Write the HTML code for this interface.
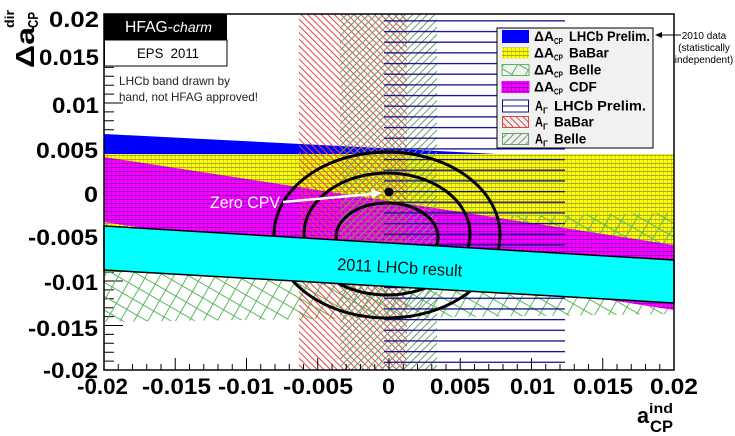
<!DOCTYPE html>
<html>
<head>
<meta charset="utf-8">
<style>
html,body{margin:0;padding:0;background:#fff;}
svg{display:block;}
text{font-family:"Liberation Sans",sans-serif;}
</style>
</head>
<body>
<svg width="735" height="436" viewBox="0 0 735 436" xmlns="http://www.w3.org/2000/svg">
<defs>
  <pattern id="yel" width="4" height="4" patternUnits="userSpaceOnUse">
    <rect width="4" height="4" fill="#ffff00"/>
    <rect y="3" width="4" height="1" fill="#2a2a80" opacity=".4"/>
    <rect x="3" width="1" height="3" fill="#2a2a80" opacity=".2"/>
  </pattern>
  <pattern id="mag" width="4" height="4" patternUnits="userSpaceOnUse">
    <rect width="4" height="4" fill="#ff00ff"/>
    <rect y="3" width="4" height="1" fill="#3010a0" opacity=".5"/>
    <rect x="3" width="1" height="3" fill="#3010a0" opacity=".25"/>
  </pattern>
  <pattern id="red" width="4.7" height="6" patternUnits="userSpaceOnUse" patternTransform="rotate(-45)">
    <rect width="1" height="6" fill="#e24444"/>
  </pattern>
  <pattern id="gsl" width="5.2" height="6" patternUnits="userSpaceOnUse" patternTransform="rotate(45)">
    <rect width="1" height="6" fill="#6a9f6a"/>
  </pattern>
  <pattern id="gcross" width="12" height="12" patternUnits="userSpaceOnUse" patternTransform="rotate(30)">
    <rect width="12" height="1" fill="#5cb85c"/>
    <rect width="1" height="12" fill="#5cb85c"/>
  </pattern>
  <pattern id="agl" width="10" height="10.67" y="20.2" patternUnits="userSpaceOnUse">
    <rect width="10" height="1.3" fill="#10108a"/>
  </pattern>
</defs>

<!-- left ticks (under the bands) -->
<path stroke="#000" stroke-width="1" fill="none" d="
M104 14h19 M104 22.9h10 M104 31.8h10 M104 40.7h10 M104 49.6h10
M104 58.5h19 M104 67.4h10 M104 76.3h10 M104 85.2h10 M104 94.1h10
M104 103h19 M104 111.9h10 M104 120.8h10 M104 129.7h10 M104 138.6h10
M104 147.5h19 M104 156.4h10 M104 165.3h10 M104 174.2h10 M104 183.1h10
M104 192h19 M104 200.9h10 M104 209.8h10 M104 218.7h10 M104 227.6h10
M104 236.5h19 M104 245.4h10 M104 254.3h10 M104 263.2h10 M104 272.1h10
M104 281h19 M104 289.9h10 M104 298.8h10 M104 307.7h10 M104 316.6h10
M104 325.5h19 M104 334.4h10 M104 343.3h10 M104 352.2h10 M104 361.1h10"/>

<!-- bands -->
<polygon points="104,134 674,163 674,210 104,180" fill="#0000ff"/>
<rect x="104" y="154" width="570" height="118" fill="url(#yel)"/>
<polygon points="104,222 674,213 674,314 104,322" fill="url(#gcross)"/>
<polygon points="104,157 674,245 674,310 104,222" fill="url(#mag)"/>
<rect x="299" y="14" width="108" height="356" fill="url(#red)"/>
<rect x="340" y="14" width="97" height="356" fill="url(#gsl)"/>
<rect x="384" y="20" width="181" height="343" fill="url(#agl)"/>

<!-- contours -->
<g fill="none" stroke="#000" stroke-width="3">
  <ellipse cx="387" cy="235" rx="113" ry="83"/>
  <ellipse cx="387" cy="234" rx="83" ry="61"/>
  <ellipse cx="387" cy="237" rx="51" ry="34"/>
</g>

<!-- cyan LHCb 2011 band -->
<polygon points="104,226 674,260 674,303 104,270" fill="#00ffff" stroke="#000" stroke-width="1.5"/>
<text x="337" y="270" font-size="17" fill="#111" textLength="125" lengthAdjust="spacingAndGlyphs" transform="rotate(3 337 270)">2011 LHCb result</text>

<!-- zero CPV -->
<circle cx="389" cy="192" r="4.5" fill="#000"/>
<line x1="283" y1="202" x2="372" y2="194" stroke="#fff" stroke-width="2.5"/>
<polygon points="382,193 371,189 372,198" fill="#fff"/>
<text x="210" y="208" font-size="17" fill="#fff" textLength="70" lengthAdjust="spacingAndGlyphs">Zero CPV</text>

<!-- bottom ticks -->
<path stroke="#000" stroke-width="1" fill="none" d="
M104 370v-12 M118.25 370v-6 M132.5 370v-6 M146.75 370v-6 M161 370v-6
M175.25 370v-12 M189.5 370v-6 M203.75 370v-6 M218 370v-6 M232.25 370v-6
M246.5 370v-12 M260.75 370v-6 M275 370v-6 M289.25 370v-6 M303.5 370v-6
M317.75 370v-12 M332 370v-6 M346.25 370v-6 M360.5 370v-6 M374.75 370v-6
M389 370v-12 M403.25 370v-6 M417.5 370v-6 M431.75 370v-6 M446 370v-6
M460.25 370v-12 M474.5 370v-6 M488.75 370v-6 M503 370v-6 M517.25 370v-6
M531.5 370v-12 M545.75 370v-6 M560 370v-6 M574.25 370v-6 M588.5 370v-6
M602.75 370v-12 M617 370v-6 M631.25 370v-6 M645.5 370v-6 M659.75 370v-6"/>

<!-- frame -->
<rect x="104" y="14" width="570" height="356" fill="none" stroke="#000" stroke-width="1.5"/>

<!-- y labels -->
<g font-size="22" font-weight="bold" fill="#000" text-anchor="end">
  <text x="99" y="27" textLength="50" lengthAdjust="spacingAndGlyphs">0.02</text>
  <text x="99" y="65" textLength="60" lengthAdjust="spacingAndGlyphs">0.015</text>
  <text x="99" y="113" textLength="47" lengthAdjust="spacingAndGlyphs">0.01</text>
  <text x="98" y="158" textLength="62" lengthAdjust="spacingAndGlyphs">0.005</text>
  <text x="98" y="202" textLength="14" lengthAdjust="spacingAndGlyphs">0</text>
  <text x="98" y="245" textLength="70" lengthAdjust="spacingAndGlyphs">-0.005</text>
  <text x="98" y="290" textLength="54" lengthAdjust="spacingAndGlyphs">-0.01</text>
  <text x="98" y="336" textLength="70" lengthAdjust="spacingAndGlyphs">-0.015</text>
  <text x="98" y="378" textLength="55" lengthAdjust="spacingAndGlyphs">-0.02</text>
</g>
<!-- x labels -->
<g font-size="22" font-weight="bold" fill="#000" text-anchor="middle">
  <text x="102.5" y="394" textLength="51" lengthAdjust="spacingAndGlyphs">-0.02</text>
  <text x="176.5" y="394" textLength="69" lengthAdjust="spacingAndGlyphs">-0.015</text>
  <text x="246" y="394" textLength="56" lengthAdjust="spacingAndGlyphs">-0.01</text>
  <text x="318" y="394" textLength="70" lengthAdjust="spacingAndGlyphs">-0.005</text>
  <text x="388.5" y="394" textLength="13" lengthAdjust="spacingAndGlyphs">0</text>
  <text x="460" y="394" textLength="60" lengthAdjust="spacingAndGlyphs">0.005</text>
  <text x="532.5" y="394" textLength="45" lengthAdjust="spacingAndGlyphs">0.01</text>
  <text x="603" y="394" textLength="60" lengthAdjust="spacingAndGlyphs">0.015</text>
  <text x="674" y="394" textLength="48" lengthAdjust="spacingAndGlyphs">0.02</text>
</g>

<!-- axis titles -->
<g font-weight="bold" fill="#000">
  <text x="637" y="423" font-size="22" textLength="12" lengthAdjust="spacingAndGlyphs">a</text>
  <text x="649" y="413" font-size="14" textLength="24" lengthAdjust="spacingAndGlyphs">ind</text>
  <text x="650" y="432" font-size="17" textLength="23" lengthAdjust="spacingAndGlyphs">CP</text>
  <text transform="translate(34,68) rotate(-90)" font-size="26" textLength="41" lengthAdjust="spacingAndGlyphs">Δa</text>
  <text transform="translate(14,28) rotate(-90)" font-size="13" textLength="18" lengthAdjust="spacingAndGlyphs">dir</text>
  <text transform="translate(38,28) rotate(-90)" font-size="15" textLength="16" lengthAdjust="spacingAndGlyphs">CP</text>
</g>

<!-- HFAG box -->
<rect x="104" y="14" width="123" height="26" fill="#000"/>
<text x="125" y="32" font-size="16" fill="#fff" textLength="48" lengthAdjust="spacingAndGlyphs">HFAG-</text>
<text x="173" y="32" font-size="14" font-style="italic" fill="#fff" textLength="39" lengthAdjust="spacingAndGlyphs">charm</text>
<rect x="104.5" y="40" width="122.5" height="26" fill="#fff" stroke="#000" stroke-width="1"/>
<text x="137" y="58" font-size="13.5" fill="#000" textLength="62" lengthAdjust="spacingAndGlyphs" xml:space="preserve">EPS  2011</text>

<!-- note -->
<text x="119" y="85" font-size="12" fill="#222" textLength="111" lengthAdjust="spacingAndGlyphs">LHCb band drawn by</text>
<text x="119" y="101" font-size="12" fill="#222" textLength="139" lengthAdjust="spacingAndGlyphs">hand, not HFAG approved!</text>

<!-- legend -->
<rect x="497" y="28" width="156" height="120" fill="#f1f1f1" stroke="#000" stroke-width="1"/>
<rect x="502" y="30" width="27" height="13" fill="#0000ff"/>
<rect x="502" y="47.5" width="27" height="11" fill="url(#yel)"/>
<rect x="502" y="64.5" width="27" height="11" fill="url(#gcross)" stroke="#5cb85c" stroke-width="1"/>
<rect x="502" y="81.5" width="27" height="11" fill="url(#mag)" stroke="#ff00ff" stroke-width="1"/>
<rect x="502.5" y="100" width="26" height="12" fill="#fff" stroke="#10108a" stroke-width="1"/>
<line x1="502" y1="106" x2="529" y2="106" stroke="#10108a" stroke-width="1"/>
<rect x="502.5" y="116.5" width="26" height="11" fill="url(#red)" stroke="#e24444" stroke-width="1"/>
<rect x="502.5" y="133.5" width="26" height="11" fill="url(#gsl)" stroke="#6a9f6a" stroke-width="1"/>
<g font-weight="bold" fill="#000">
  <text x="534" y="41" font-size="13.5" textLength="20" lengthAdjust="spacingAndGlyphs">ΔA</text><text x="554" y="44" font-size="8" textLength="9" lengthAdjust="spacingAndGlyphs">CP</text>
  <text x="569" y="41" font-size="13.5" textLength="81" lengthAdjust="spacingAndGlyphs">LHCb Prelim.</text>
  <text x="534" y="57.5" font-size="13.5" textLength="20" lengthAdjust="spacingAndGlyphs">ΔA</text><text x="554" y="60.5" font-size="8" textLength="9" lengthAdjust="spacingAndGlyphs">CP</text>
  <text x="569" y="57.5" font-size="13.5">BaBar</text>
  <text x="534" y="74.5" font-size="13.5" textLength="20" lengthAdjust="spacingAndGlyphs">ΔA</text><text x="554" y="77.5" font-size="8" textLength="9" lengthAdjust="spacingAndGlyphs">CP</text>
  <text x="569" y="74.5" font-size="13.5">Belle</text>
  <text x="534" y="91.5" font-size="13.5" textLength="20" lengthAdjust="spacingAndGlyphs">ΔA</text><text x="554" y="94.5" font-size="8" textLength="9" lengthAdjust="spacingAndGlyphs">CP</text>
  <text x="569" y="91.5" font-size="13.5">CDF</text>
  <text x="535" y="110.5" font-size="13.5" textLength="8" lengthAdjust="spacingAndGlyphs">A</text><text x="543" y="113.5" font-size="8" textLength="5" lengthAdjust="spacingAndGlyphs">Γ</text>
  <text x="554" y="110.5" font-size="13.5" textLength="92" lengthAdjust="spacingAndGlyphs">LHCb Prelim.</text>
  <text x="535" y="126.5" font-size="13.5" textLength="8" lengthAdjust="spacingAndGlyphs">A</text><text x="543" y="129.5" font-size="8" textLength="5" lengthAdjust="spacingAndGlyphs">Γ</text>
  <text x="554" y="126.5" font-size="13.5">BaBar</text>
  <text x="535" y="143.5" font-size="13.5" textLength="8" lengthAdjust="spacingAndGlyphs">A</text><text x="543" y="146.5" font-size="8" textLength="5" lengthAdjust="spacingAndGlyphs">Γ</text>
  <text x="554" y="143.5" font-size="13.5">Belle</text>
</g>

<!-- annotation -->
<line x1="660" y1="35" x2="681" y2="35" stroke="#000" stroke-width="1"/>
<polygon points="655,35 662,32 662,38" fill="#000"/>
<g font-size="10" fill="#000" text-anchor="middle">
  <text x="704" y="39">2010 data</text>
  <text x="704" y="51">(statistically</text>
  <text x="704" y="63">independent)</text>
</g>
</svg>
</body>
</html>
